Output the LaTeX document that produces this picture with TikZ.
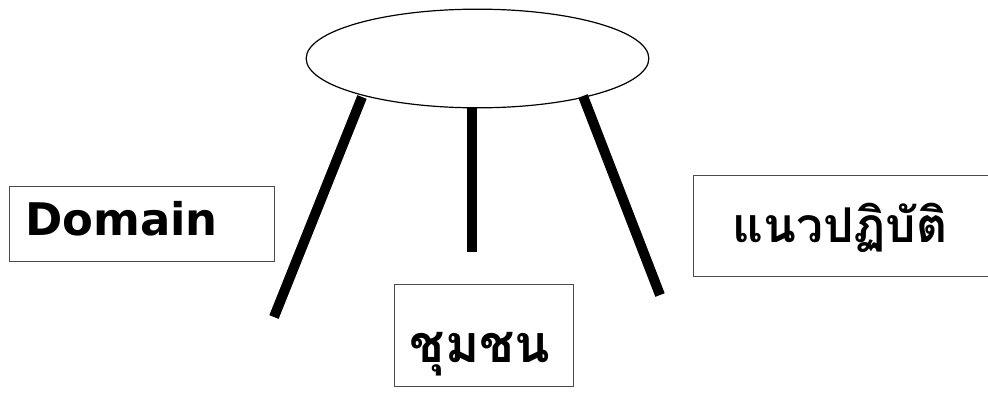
\documentclass[tikz,border=0pt]{standalone}
\usepackage{fontspec}
\usetikzlibrary{shapes.geometric}
\newfontfamily\latinfont{DejaVu Sans}
\newfontfamily\thaifont[Script=Thai]{Loma}
\tikzset{
  tabletop/.style={draw,ellipse,line width=0.9pt,inner sep=0pt},
  leg/.style={line width=7.5pt},
  labelbox/.style={draw=black!70,line width=0.75pt,inner sep=0pt},
}
\begin{document}
\begin{tikzpicture}[x=0.75pt,y=-0.75pt]
\useasboundingbox (0,0) rectangle (988,396);
% the table
\node[tabletop,minimum width=257pt,minimum height=74pt] (top) at (477.5,58.5) {};
\coordinate (lefttop) at (362,97);
\coordinate (leftfoot) at (274,317);
\coordinate (midtop) at (472,107);
\coordinate (midfoot) at (472,252);
\coordinate (righttop) at (583,96);
\coordinate (rightfoot) at (660,295);
\draw[leg] (lefttop) -- (leftfoot);
\draw[leg] (midtop) -- (midfoot);
\draw[leg] (righttop) -- (rightfoot);

% the three labels
\node[labelbox,minimum width=198.75pt,minimum height=56.25pt] (dombox) at (141.5,223.5) {};
\node[anchor=base west,inner sep=0pt,font=\latinfont\bfseries\fontsize{33.7}{37}\selectfont] (domain) at (25,235) {Domain};

\node[labelbox,minimum width=134.25pt,minimum height=76.5pt] (combox) at (483.5,335) {};
\node[anchor=base,inner sep=0pt,font=\thaifont\bfseries\fontsize{39}{44}\selectfont] (community) at (480,362) {ชุมชน};

\node[labelbox,minimum width=223.5pt,minimum height=75.75pt] (pracbox) at (842,225.5) {};
\node[anchor=base,inner sep=0pt,font=\thaifont\bfseries\fontsize{36}{41}\selectfont] (practice) at (840,242) {แนวปฏิบัติ};
\end{tikzpicture}
\end{document}
